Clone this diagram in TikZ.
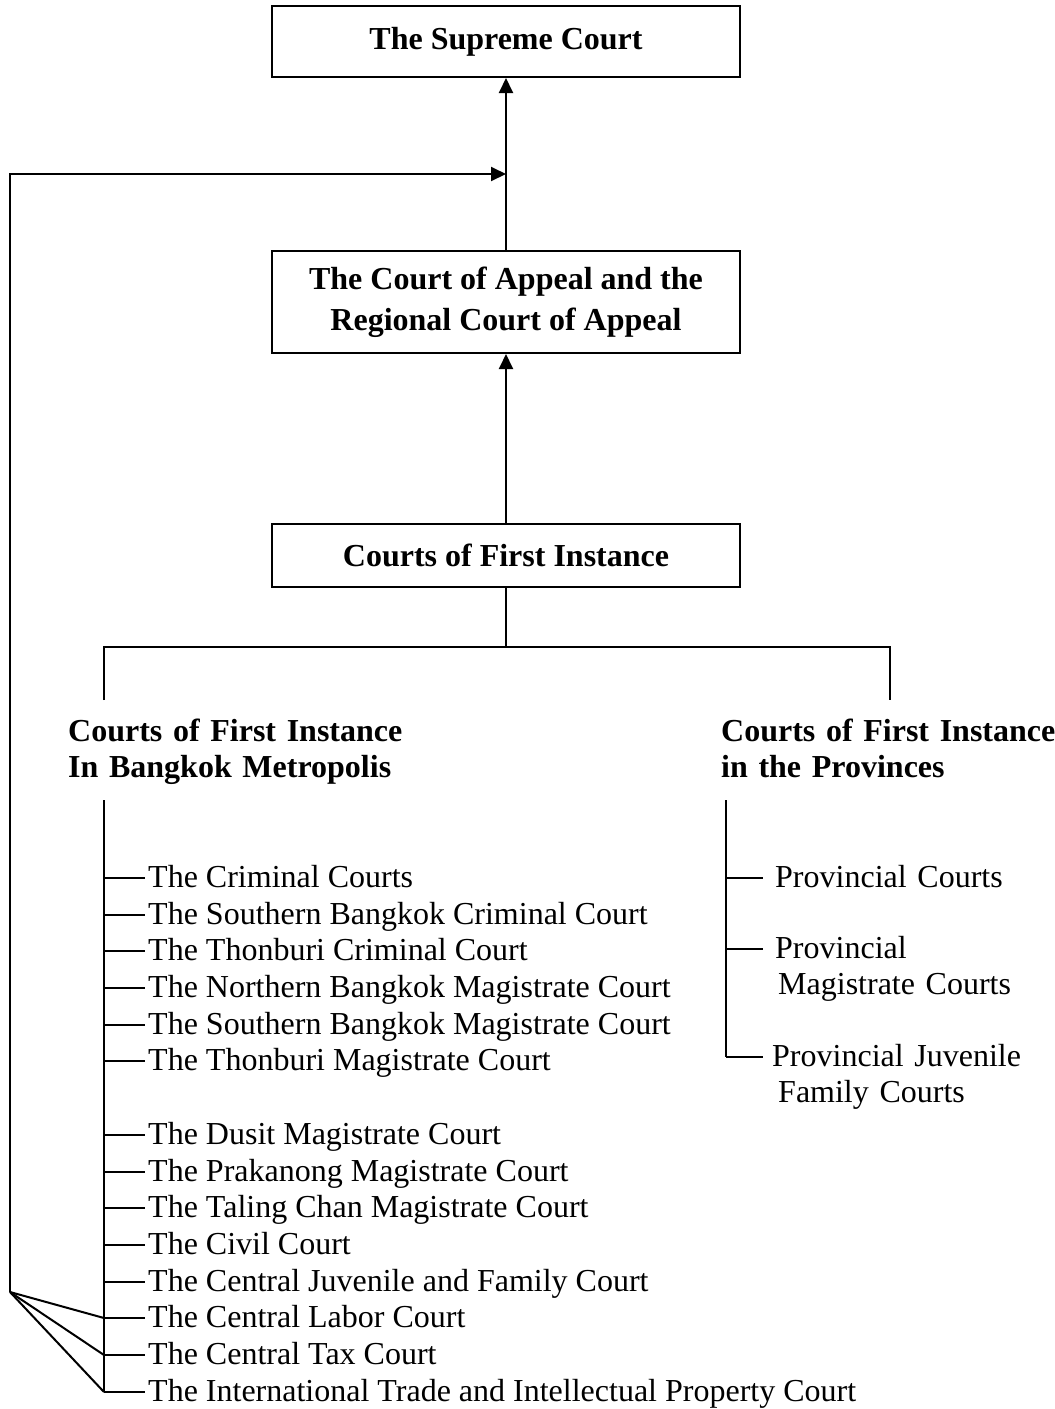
\documentclass[tikz,border=0pt]{standalone}
\usepackage{fontspec}
\setmainfont{Liberation Serif}
\usetikzlibrary{arrows.meta}
\begin{document}
\begin{tikzpicture}[x=1pt,y=-1pt,
  every node/.style={font=\fontsize{32}{36.8}\selectfont, inner sep=0pt},
  conn/.style={line width=2pt},
  box/.style={draw, line width=2pt, minimum width=468pt, align=center, font=\fontsize{32}{41}\selectfont\bfseries},
  arr/.style={line width=2pt, -{Triangle[length=15pt,width=14pt]}},
  item/.style={anchor=west, text height=24pt, text depth=6pt, inner xsep=3pt},
  ritem/.style={anchor=west, text height=24pt, text depth=6pt, align=left, text width=300pt},
  head/.style={anchor=base west, align=left, text width=400pt, font=\fontsize{32}{36.8}\selectfont\bfseries}
]
\useasboundingbox (0,0) rectangle (1055,1409);
\fill[white] (0,0) rectangle (1055,1409);

% boxes
\node[box, minimum height=71pt] (sc) at (506,41.5) {The Supreme Court};
\node[box, minimum height=102pt] (ca) at (506,302) {The Court of Appeal and the\\Regional Court of Appeal};
\node[box, minimum height=63pt] (fi) at (506,555.5) {Courts of First Instance};

\draw[arr] (ca.north) -- (sc.south);
\draw[arr] (fi.north) -- (ca.south);

% split
\coordinate (bl) at (104,647);
\coordinate (br) at (890,647);
\coordinate (dl) at (104,700);
\coordinate (dr) at (890,700);
\draw[conn] (fi.south) -- (fi.south |- bl);
\draw[conn] (dl) -- (bl) -- (br) -- (dr);

% headings
\node[head] (hl) at (68,741) {Courts of First Instance\\In Bangkok Metropolis};
\node[head] (hr) at (721,741) {Courts of First Instance\\in the Provinces};

% left list
\coordinate (lt) at (104,800);
\foreach \y/\t [count=\i] in {
  878/The Criminal Courts,
  915/The Southern Bangkok Criminal Court,
  951/The Thonburi Criminal Court,
  988/The Northern Bangkok Magistrate Court,
  1025/The Southern Bangkok Magistrate Court,
  1061/The Thonburi Magistrate Court,
  1135/The Dusit Magistrate Court,
  1172/The Prakanong Magistrate Court,
  1208/The Taling Chan Magistrate Court,
  1245/The Civil Court,
  1282/The Central Juvenile and Family Court,
  1318/The Central Labor Court,
  1355/The Central Tax Court,
  1392/The International Trade and Intellectual Property Court}{
  \node[item] (l\i) at (145,\y) {\t};
  \draw[conn] (l\i.west -| lt) -- (l\i.west);
}
\draw[conn] (lt) -- (l14.west -| lt);

% right list
\coordinate (rt) at (726,800);
\node[ritem, inner xsep=12pt] (r1) at (763,878) {Provincial Courts};
\node[ritem, inner xsep=12pt] (r2) at (763,949) {Provincial\\\hspace*{3pt}Magistrate Courts};
\node[ritem, inner xsep=9pt] (r3) at (763,1057) {Provincial Juvenile\\\hspace*{6pt}Family Courts};
\foreach \r in {r1,r2,r3}{
  \draw[conn] (\r.west -| rt) -- (\r.west);
}
\draw[conn] (rt) -- (r3.west -| rt);

% feedback to Supreme Court
\coordinate (fb) at (10,1292);
\coordinate (join) at (ca.north |- 0,174);
\draw[arr] (fb) |- (join);
\foreach \k in {12,13,14}{
  \draw[conn] (fb) -- (l\k.west -| lt);
}
\end{tikzpicture}
\end{document}
